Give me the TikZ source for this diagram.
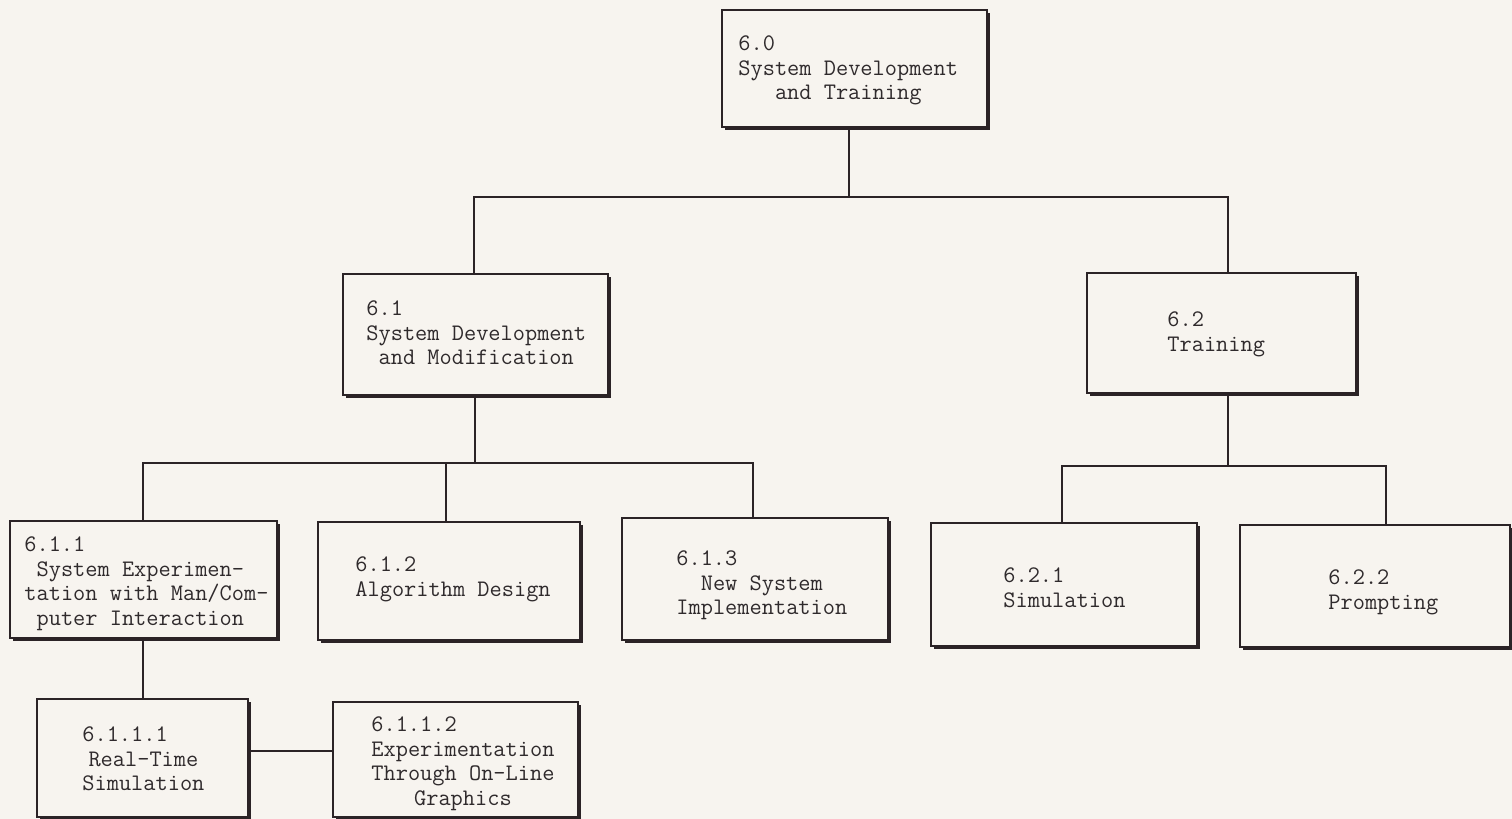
\documentclass[tikz,border=0pt]{standalone}
\usepackage{fontspec}
\usetikzlibrary{shadows}
\definecolor{paper}{HTML}{F7F4EF}
\definecolor{ink}{HTML}{2B2326}
\definecolor{typeink}{HTML}{2F2A2C}
\newlength\chw
\newcommand\ind[1]{\hspace*{#1\chw}}
\tikzset{
  box/.style={rectangle, draw=ink, line width=1pt, fill=paper, inner sep=0pt,
    general shadow={fill=ink, shadow xshift=1.4pt, shadow yshift=-1.4pt}},
  lbl/.style={anchor=north west, inner sep=0pt, align=left, text=typeink,
    font=\ttfamily\fontsize{11.85}{12.3}\selectfont},
  wire/.style={draw=ink, line width=1.2pt}
}
\begin{document}
\settowidth\chw{\ttfamily\fontsize{11.85}{12.3}\selectfont 0}
\begin{tikzpicture}[x=0.5pt, y=-0.5pt]
\fill[paper] (0,0) rectangle (1512,819);
\useasboundingbox (0,0) rectangle (1512,819);

% boxes
\node[box, minimum width=132.5pt, minimum height=58.5pt] (b60)   at (854.5,68.5) {};
\node[box, minimum width=132.5pt, minimum height=60.5pt] (b61)   at (475.5,334.5) {};
\node[box, minimum width=134.5pt, minimum height=60pt]   (b62)   at (1221.5,333) {};
\node[box, minimum width=133.5pt, minimum height=58.5pt] (b611)  at (143.5,579.5) {};
\node[box, minimum width=131pt,   minimum height=59pt]   (b612)  at (449,581) {};
\node[box, minimum width=133pt,   minimum height=61pt]   (b613)  at (755,579) {};
\node[box, minimum width=133pt,   minimum height=61.5pt] (b621)  at (1064,584.5) {};
\node[box, minimum width=135pt,   minimum height=61pt]   (b622)  at (1375,586) {};
\node[box, minimum width=105.5pt, minimum height=59pt]   (b6111) at (142.5,758) {};
\node[box, minimum width=122.5pt, minimum height=57.5pt] (b6112) at (455.5,759.5) {};

% labels
\node[lbl] (t60) at (738,35.5) {6.0\\System Development\\\ind{3}and Training};
\node[lbl] (t61) at (366,300.5) {6.1\\System Development\\\ind{1}and Modification};
\node[lbl] (t62) at (1167,311.5) {6.2\\Training};
\node[lbl] (t611) at (24,536.5) {6.1.1\\\ind{1}System Experimen-\\tation with Man/Com-\\\ind{1}puter Interaction};
\node[lbl] (t612) at (355,556.5) {6.1.2\\Algorithm Design};
\node[lbl] (t613) at (676,550.5) {6.1.3\\\ind{2}New System\\Implementation};
\node[lbl] (t621) at (1003,567.5) {6.2.1\\Simulation};
\node[lbl] (t622) at (1328,569.5) {6.2.2\\Prompting};
\node[lbl] (t6111) at (82,726.5) {6.1.1.1\\\ind{0.5}Real-Time\\Simulation};
\node[lbl] (t6112) at (371,716.5) {6.1.1.2\\Experimentation\\Through On-Line\\\ind{3.5}Graphics};

% level 1 bus
\coordinate (j0)  at (849,197);
\coordinate (j1l) at (474,197);
\coordinate (j1r) at (1228,197);
\draw[wire] (b60.south -| j0) -- (j0);
\draw[wire] (b61.north -| j1l) -- (j1l) -- (j1r) -- (b62.north -| j1r);

% level 2 bus under 6.1
\coordinate (j2)  at (475,463);
\coordinate (j2l) at (143,463);
\coordinate (j2m) at (446,463);
\coordinate (j2r) at (753,463);
\draw[wire] (b61.south -| j2) -- (j2);
\draw[wire] (b611.north -| j2l) -- (j2l) -- (j2r) -- (b613.north -| j2r);
\draw[wire] (j2m) -- (b612.north -| j2m);

% level 2 bus under 6.2
\coordinate (j3)  at (1228,466);
\coordinate (j3l) at (1062,466);
\coordinate (j3r) at (1386,466);
\draw[wire] (b62.south -| j3) -- (j3);
\draw[wire] (b621.north -| j3l) -- (j3l) -- (j3r) -- (b622.north -| j3r);

% level 3 under 6.1.1
\coordinate (j4) at (143,670);
\coordinate (j5) at (290,751);
\draw[wire] (b611.south -| j4) -- (b6111.north -| j4);
\draw[wire] (b6111.east |- j5) -- (b6112.west |- j5);
\end{tikzpicture}
\end{document}
